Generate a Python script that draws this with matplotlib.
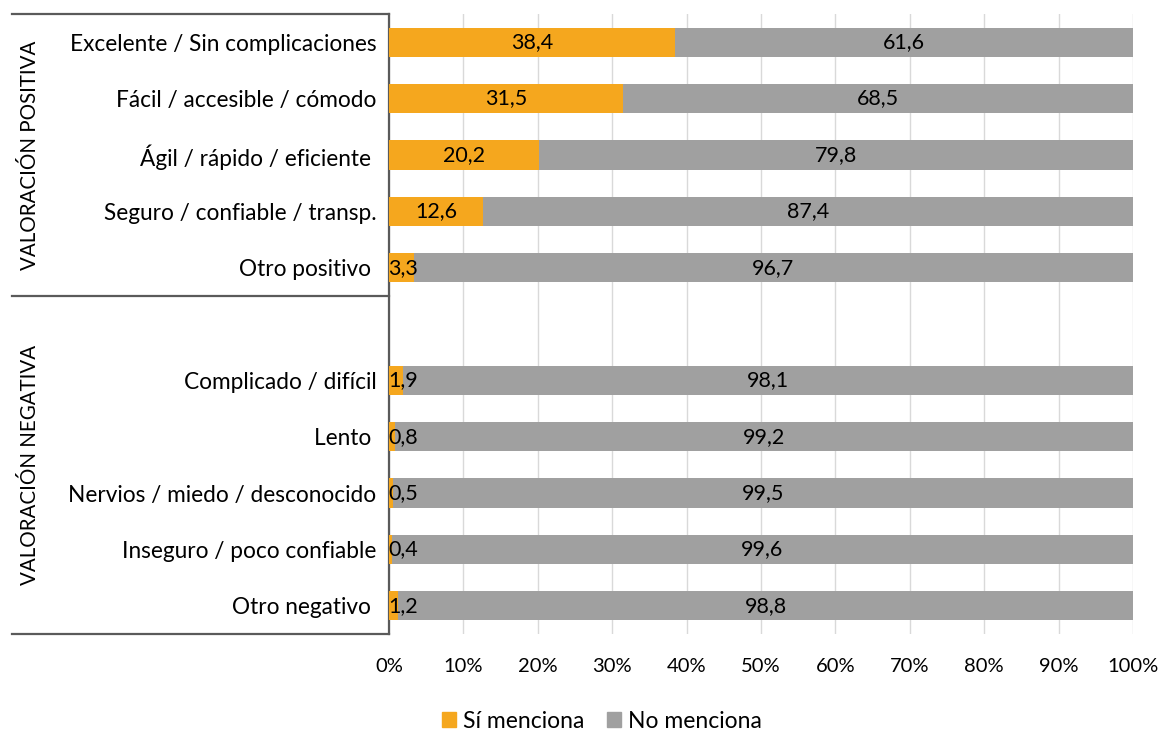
import matplotlib
matplotlib.use("Agg")
import matplotlib.pyplot as plt
import matplotlib.transforms as mtransforms
from matplotlib.patches import Patch

plt.rcParams['font.family'] = ['Lato', 'DejaVu Sans']

# Datos (porcentajes)
positivas = ['Excelente / Sin complicaciones', 'Fácil / accesible / cómodo',
             'Ágil / rápido / eficiente ', 'Seguro / confiable / transp.',
             'Otro positivo ']
si_pos = [38.4, 31.5, 20.2, 12.6, 3.3]
no_pos = [61.6, 68.5, 79.8, 87.4, 96.7]

negativas = ['Complicado / difícil', 'Lento ', 'Nervios / miedo / desconocido',
             'Inseguro / poco confiable', 'Otro negativo ']
si_neg = [1.9, 0.8, 0.5, 0.4, 1.2]
no_neg = [98.1, 99.2, 99.5, 99.6, 98.8]

grupos = ['VALORACIÓN POSITIVA', 'VALORACIÓN NEGATIVA']
ticks_x = [0, 10, 20, 30, 40, 50, 60, 70, 80, 90, 100]

naranja = '#F5A71E'
gris = '#A0A0A0'
linea = '#5A5A5A'

etiquetas = positivas + negativas
si = si_pos + si_neg
no = no_pos + no_neg
# posiciones con un hueco entre los dos grupos
ys = list(range(len(positivas))) + [len(positivas) + 1 + i for i in range(len(negativas))]

fig = plt.figure(figsize=(11.65, 7.33), dpi=100)
ax = fig.add_axes([389 / 1165, 1 - 634 / 733, 744 / 1165, 620 / 733])

alto = 0.52
ax.barh(ys, si, height=alto, color=naranja, zorder=3)
ax.barh(ys, no, left=si, height=alto, color=gris, zorder=3)

for y, a, b in zip(ys, si, no):
    xa = max(a / 2, 1.9)
    ax.text(xa, y, f"{a:.1f}".replace('.', ','), ha='center', va='center',
            fontsize=15.5, color='black', zorder=4)
    ax.text(a + b / 2, y, f"{b:.1f}".replace('.', ','), ha='center', va='center',
            fontsize=15.5, color='black', zorder=4)

ax.set_xlim(0, 100)
ax.set_ylim(len(ys) + 0.5, -0.5)
ax.set_xticks(ticks_x)
ax.set_xticklabels([f"{t}%" for t in ticks_x], fontsize=14.5)
ax.set_yticks(ys)
ax.set_yticklabels(etiquetas, fontsize=16.3)
ax.tick_params(axis='both', length=0)
ax.tick_params(axis='x', pad=17)
ax.tick_params(axis='y', pad=9)
ax.grid(axis='x', color='#D9D9D9', linewidth=1, zorder=0)
ax.grid(axis='y', visible=False)
for s in ['top', 'right', 'bottom']:
    ax.spines[s].set_visible(False)
ax.spines['left'].set_color(linea)
ax.spines['left'].set_linewidth(1.6)

# Llaves de grupo a la izquierda
tr = mtransforms.blended_transform_factory(ax.transAxes, ax.transData)
x0 = (12 - 389) / 744
limites = [-0.5, len(positivas) - 0.5, len(ys) + 0.5]
for yl in limites:
    ax.plot([x0, 0], [yl, yl], color=linea, lw=1.6, transform=tr, clip_on=False)
centros = [(limites[0] + limites[1]) / 2, (limites[1] + limites[2]) / 2]
for g, c in zip(grupos, centros):
    ax.text((30 - 389) / 744, c, g, rotation=90, ha='center', va='center',
            fontsize=14.8, transform=tr)

handles = [Patch(color=naranja, label='Sí menciona'),
           Patch(color=gris, label='No menciona')]
fig.legend(handles=handles, loc='center', bbox_to_anchor=(602 / 1165, 1 - 721 / 733),
           ncol=2, frameon=False, fontsize=16.5, handlelength=0.6, handleheight=0.6,
           handletextpad=0.3, columnspacing=1.0)

fig.savefig('out.png', dpi=100)
